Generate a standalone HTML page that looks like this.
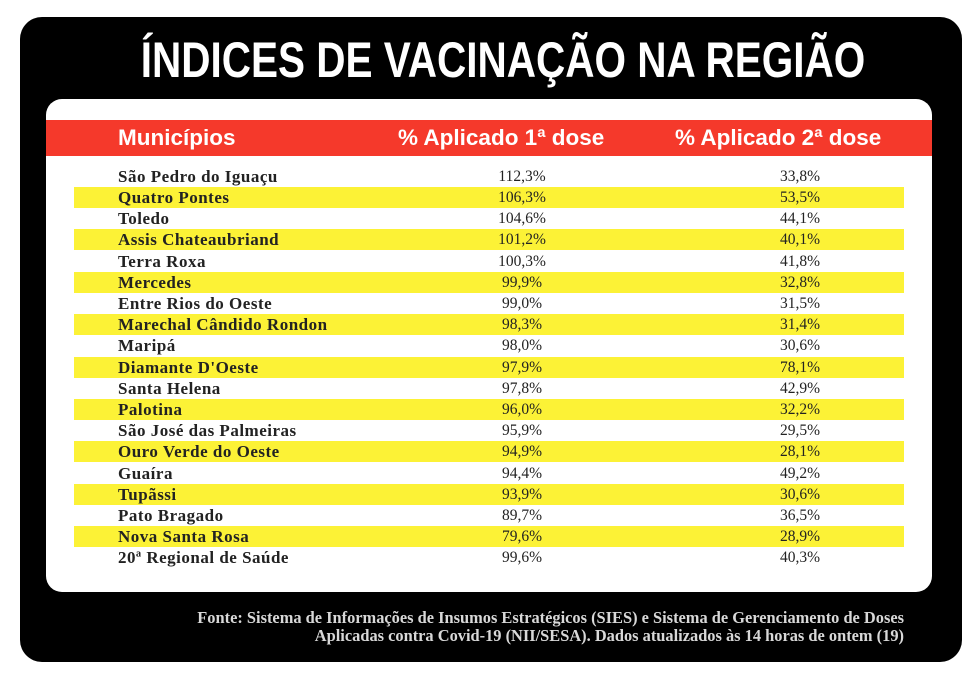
<!DOCTYPE html>
<html><head><meta charset="utf-8"><style>
body{margin:0;width:980px;height:679px;background:#fff;position:relative;overflow:hidden;font-family:"Liberation Serif",serif}
.box{position:absolute;left:20px;top:17px;width:942px;height:645px;background:#000;border-radius:22px}
.title{position:absolute;left:0;width:1006px;top:30px;text-align:center;color:#fff;font:bold 50px/60px "Liberation Sans",sans-serif;transform:scaleX(0.81);transform-origin:503px 0}
.panel{position:absolute;left:46px;top:99px;width:886px;height:493px;background:#fff;border-radius:16px}
.red{position:absolute;left:46px;top:120px;width:886px;height:36px;background:#f5392b}
.h{position:absolute;top:120px;color:#fff;font:bold 22.5px/36px "Liberation Sans",sans-serif;white-space:nowrap}
.row{position:absolute;left:74px;width:830px;height:21px;font-size:15.5px;line-height:21px;color:#222}
.row.y{background:#fcf236}
.n{position:absolute;left:44px;font-weight:bold;font-size:17px;letter-spacing:0.5px}
.a{position:absolute;left:398px;width:100px;text-align:center}
.b{position:absolute;left:676px;width:100px;text-align:center}
.f{position:absolute;right:76px;color:#d8d8d8;font-weight:bold;font-size:16.4px;line-height:18px;text-align:right;white-space:nowrap}
</style></head><body>
<div class="box"></div>
<div class="title">ÍNDICES DE VACINAÇÃO NA REGIÃO</div>
<div class="panel"></div>
<div class="red"></div>
<div class="h" style="left:118px">Municípios</div>
<div class="h" style="left:398px">% Aplicado 1ª dose</div>
<div class="h" style="left:675px">% Aplicado 2ª dose</div>
<div class="row" style="top:166px"><span class="n">São Pedro do Iguaçu</span><span class="a">112,3%</span><span class="b">33,8%</span></div>
<div class="row y" style="top:187px"><span class="n">Quatro Pontes</span><span class="a">106,3%</span><span class="b">53,5%</span></div>
<div class="row" style="top:208px"><span class="n">Toledo</span><span class="a">104,6%</span><span class="b">44,1%</span></div>
<div class="row y" style="top:229px"><span class="n">Assis Chateaubriand</span><span class="a">101,2%</span><span class="b">40,1%</span></div>
<div class="row" style="top:251px"><span class="n">Terra Roxa</span><span class="a">100,3%</span><span class="b">41,8%</span></div>
<div class="row y" style="top:272px"><span class="n">Mercedes</span><span class="a">99,9%</span><span class="b">32,8%</span></div>
<div class="row" style="top:293px"><span class="n">Entre Rios do Oeste</span><span class="a">99,0%</span><span class="b">31,5%</span></div>
<div class="row y" style="top:314px"><span class="n">Marechal Cândido Rondon</span><span class="a">98,3%</span><span class="b">31,4%</span></div>
<div class="row" style="top:335px"><span class="n">Maripá</span><span class="a">98,0%</span><span class="b">30,6%</span></div>
<div class="row y" style="top:357px"><span class="n">Diamante D'Oeste</span><span class="a">97,9%</span><span class="b">78,1%</span></div>
<div class="row" style="top:378px"><span class="n">Santa Helena</span><span class="a">97,8%</span><span class="b">42,9%</span></div>
<div class="row y" style="top:399px"><span class="n">Palotina</span><span class="a">96,0%</span><span class="b">32,2%</span></div>
<div class="row" style="top:420px"><span class="n">São José das Palmeiras</span><span class="a">95,9%</span><span class="b">29,5%</span></div>
<div class="row y" style="top:441px"><span class="n">Ouro Verde do Oeste</span><span class="a">94,9%</span><span class="b">28,1%</span></div>
<div class="row" style="top:463px"><span class="n">Guaíra</span><span class="a">94,4%</span><span class="b">49,2%</span></div>
<div class="row y" style="top:484px"><span class="n">Tupãssi</span><span class="a">93,9%</span><span class="b">30,6%</span></div>
<div class="row" style="top:505px"><span class="n">Pato Bragado</span><span class="a">89,7%</span><span class="b">36,5%</span></div>
<div class="row y" style="top:526px"><span class="n">Nova Santa Rosa</span><span class="a">79,6%</span><span class="b">28,9%</span></div>
<div class="row" style="top:547px"><span class="n">20ª Regional de Saúde</span><span class="a">99,6%</span><span class="b">40,3%</span></div>
<div class="f" style="top:609px">Fonte: Sistema de Informações de Insumos Estratégicos (SIES) e Sistema de Gerenciamento de Doses</div>
<div class="f" style="top:627px">Aplicadas contra Covid-19 (NII/SESA). Dados atualizados às 14 horas de ontem (19)</div>
</body></html>
